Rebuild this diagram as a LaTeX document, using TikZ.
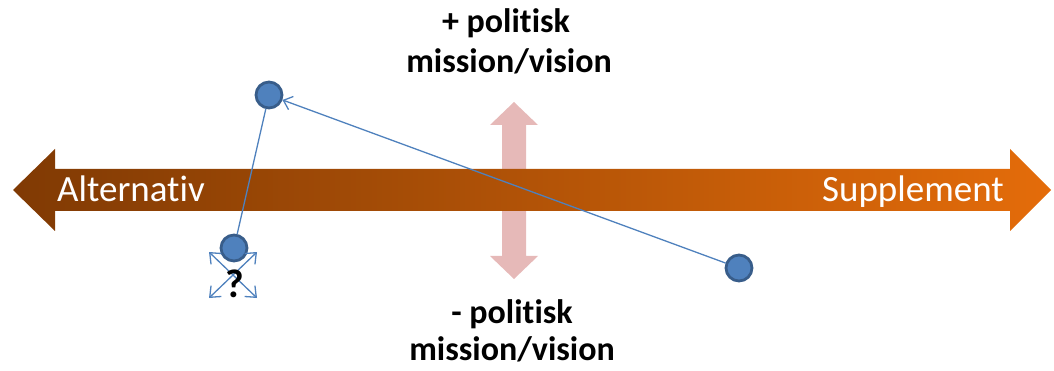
\documentclass[tikz,border=0pt]{standalone}
\usepackage{fontspec}
\setmainfont[Ligatures=NoCommon]{Carlito}
\usetikzlibrary{arrows.meta}
\definecolor{barL}{RGB}{128,58,4}
\definecolor{barR}{RGB}{228,108,10}
\definecolor{pinkA}{RGB}{230,185,184}
\definecolor{dotF}{RGB}{79,129,189}
\definecolor{dotB}{RGB}{56,93,138}
\definecolor{lineB}{RGB}{79,129,189}
\tikzset{
  dot/.style={circle,fill=dotF,draw=dotB,line width=2.8pt,minimum size=26pt,inner sep=0pt},
  conn/.style={draw=lineB,line width=1.3pt},
  barb/.style={-{Straight Barb[length=8pt,width=14pt,line width=1.3pt]}},
  dbarb/.style={{Straight Barb[length=9pt,width=15pt,line width=1.3pt]}-{Straight Barb[length=9pt,width=15pt,line width=1.3pt]}},
  bigtxt/.style={font=\fontsize{34}{40}\selectfont\bfseries,align=center,text=black},
  bartxt/.style={font=\fontsize{37}{40}\selectfont,text=white,inner sep=0pt}
}
\begin{document}
\begin{tikzpicture}[x=1pt,y=-1pt]
\useasboundingbox (0,0) rectangle (1054,371);
% pink vertical arrow
\fill[pinkA] (514,102) -- (538,125) -- (526,125) -- (526,256) -- (538,256) -- (514,279)
  -- (490,256) -- (502,256) -- (502,125) -- (490,125) -- cycle;
% orange horizontal arrow
\shade[left color=barL,right color=barR] (13,190) -- (55,149) -- (55,169) -- (1010,169) -- (1010,149)
  -- (1051,190) -- (1010,231) -- (1010,211) -- (55,211) -- (55,231) -- cycle;
\node[bartxt,anchor=base west] (alt) at (57,202) {Alternativ};
\node[bartxt,anchor=base east] (sup) at (1004,202) {Supplement};
% texts
\node[bigtxt,anchor=base] (plus1) at (506,33) {+ politisk};
\node[bigtxt,anchor=base] (plus2) at (509,73) {mission/vision};
\node[bigtxt,anchor=base] (minus1) at (512,323) {- politisk};
\node[bigtxt,anchor=base] (minus2) at (512,360) {mission/vision};
% dots
\node[dot] (top) at (269,95) {};
\node[dot] (bl) at (234,248) {};
\node[dot] (rt) at (739,268) {};
% connectors
\draw[conn] (bl) -- (top);
\draw[conn,barb] (rt) -- (top);
% four-way arrows
\coordinate (c1) at (209,252);
\coordinate (c2) at (257,298);
\coordinate (c3) at (257,252);
\coordinate (c4) at (209,298);
\draw[conn,dbarb] (c1) -- (c2);
\draw[conn,dbarb] (c3) -- (c4);
\node[font=\fontsize{40}{40}\selectfont\bfseries,anchor=base,inner sep=0pt] (q) at (235,298) {?};
\end{tikzpicture}
\end{document}
